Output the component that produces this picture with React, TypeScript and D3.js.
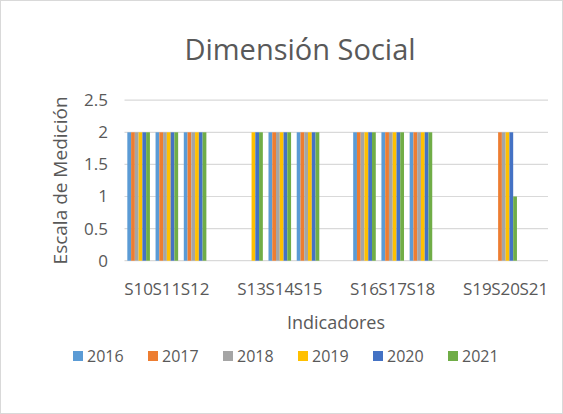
import React from 'react';
import * as d3 from 'd3';

// blank labels are the empty slots Excel leaves between the groups
const categories = ['S10', 'S11', 'S12', '', 'S13', 'S14', 'S15', '', 'S16', 'S17', 'S18', '', 'S19', 'S20', 'S21'];
const years = ['2016', '2017', '2018', '2019', '2020', '2021'];
const colors = ['#5B9BD5', '#ED7D31', '#A5A5A5', '#FFC000', '#4472C4', '#70AD47'];

const v2016 = [2, 2, 2, null, null, 2, 2, null, 2, 2, 2, null, null, null, null];
const v2017 = [2, 2, 2, null, null, 2, 2, null, 2, 2, 2, null, null, 2, null];
const v2018 = [2, 2, 2, null, null, 2, 2, null, 2, 2, 2, null, null, 2, null];
const v2019 = [2, 2, 2, null, 2, 2, 2, null, 2, 2, 2, null, null, 2, null];
const v2020 = [2, 2, 2, null, 2, 2, 2, null, 2, 2, 2, null, null, 2, null];
const v2021 = [2, 2, 2, null, 2, 2, 2, null, 2, 2, 2, null, null, 1, null];
const series = [v2016, v2017, v2018, v2019, v2020, v2021];

const yTicks = [0, 0.5, 1, 1.5, 2, 2.5];

const W = 563;
const H = 414;
const font = '"Open Sans", "Liberation Sans", sans-serif';
const txt = '#595959';

export default function App() {
  const plot = { left: 124.5, right: 548, top: 100.2, bottom: 260.7 };

  const x0 = d3.scaleBand<number>()
    .domain(categories.map((_, i) => i))
    .range([plot.left, plot.right])
    .paddingInner(0.2)
    .paddingOuter(0.1);
  const x1 = d3.scaleBand<number>()
    .domain(years.map((_, i) => i))
    .range([0, x0.bandwidth()]);
  const y = d3.scaleLinear().domain([0, 2.5]).range([plot.bottom, plot.top]);

  const legendX = d3.scalePoint<string>().domain(years).range([73, 448]);

  return (
    <svg width={W} height={H} style={{ position: 'absolute', left: 0, top: 0, background: '#fff' }}>
      <rect x={0.5} y={0.5} width={W - 1} height={H - 1} fill="#fff" stroke="#D9D9D9" />
      <text x={300} y={60} textAnchor="middle" fontFamily={font} fontSize={29} fill={txt}>
        Dimensión Social
      </text>

      {yTicks.map(t => (
        <g key={t}>
          <line x1={plot.left} x2={plot.right} y1={y(t)} y2={y(t)} stroke="#D9D9D9" strokeWidth={1.2} />
          <text x={108} y={y(t)} dy="0.35em" textAnchor="end" fontFamily={font} fontSize={17} fill={txt}>
            {t}
          </text>
        </g>
      ))}

      {series.map((vals, s) =>
        vals.map((v, i) =>
          v == null ? null : (
            <rect
              key={s + '-' + i}
              x={(x0(i) ?? 0) + (x1(s) ?? 0)}
              y={y(v)}
              width={x1.bandwidth()}
              height={y(0) - y(v)}
              fill={colors[s]}
            />
          )
        )
      )}

      {categories.map((c, i) => (
        <text
          key={'c' + i}
          x={(x0(i) ?? 0) + x0.bandwidth() / 2}
          y={295}
          textAnchor="middle"
          fontFamily={font}
          fontSize={17}
          fill={txt}
        >
          {c}
        </text>
      ))}

      <text x={336} y={329} textAnchor="middle" fontFamily={font} fontSize={18} fill={txt}>
        Indicadores
      </text>
      <text
        transform={`translate(67,${(plot.top + plot.bottom) / 2}) rotate(-90)`}
        textAnchor="middle"
        fontFamily={font}
        fontSize={19}
        fill={txt}
      >
        Escala de Medición
      </text>

      {years.map((yr, s) => (
        <g key={yr} transform={`translate(${legendX(yr)},356)`}>
          <rect x={0} y={-5} width={10} height={10} fill={colors[s]} />
          <text x={14} y={0} dy="0.35em" fontFamily={font} fontSize={16} fill={txt}>
            {yr}
          </text>
        </g>
      ))}
    </svg>
  );
}
